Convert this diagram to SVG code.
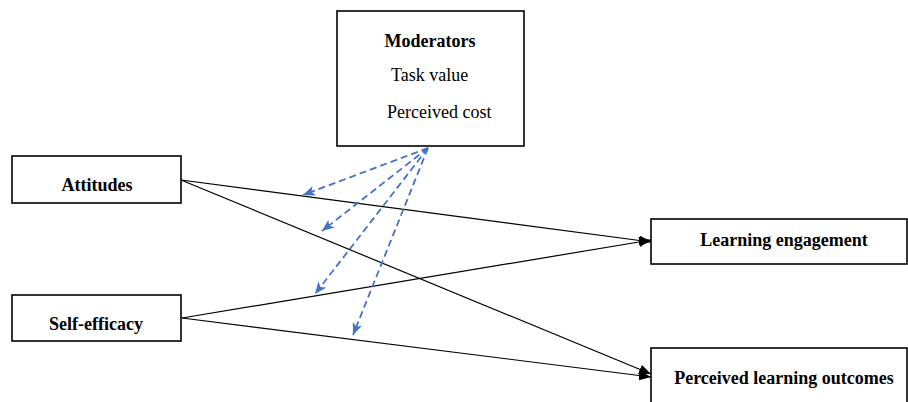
<svg xmlns="http://www.w3.org/2000/svg" width="908" height="402" viewBox="0 0 908 402">
<style>
.box{fill:#fff;stroke:#000;stroke-width:1.6}
.t{font-family:"Liberation Serif","Times New Roman",serif;font-size:18px;fill:#000}
.b{font-weight:bold}
.ln{stroke:#000;stroke-width:1.2;fill:none}
.ds{stroke:#4472C4;stroke-width:1.8;stroke-dasharray:7 4;fill:none}
</style>
<defs>
<marker id="ah" viewBox="0 0 12 10" refX="12" refY="5" markerWidth="12" markerHeight="10" markerUnits="userSpaceOnUse" orient="auto">
<path d="M0,0 L12,5 L0,10 Z" fill="#000"/>
</marker>
<marker id="bh" viewBox="0 0 12 10" refX="12" refY="5" markerWidth="12" markerHeight="10" markerUnits="userSpaceOnUse" orient="auto">
<path d="M0,0 L12,5 L0,10 L3,5 Z" fill="#4472C4"/>
</marker>
</defs>
<g id="moderators">
<rect class="box" x="337" y="11" width="187" height="135"/>
<text class="t b" x="430" y="47" text-anchor="middle">Moderators</text>
<text class="t" x="391" y="81">Task value</text>
<text class="t" x="387" y="118">Perceived cost</text>
</g>
<g id="attitudes">
<rect class="box" x="12" y="156" width="169" height="47"/>
<text class="t b" x="97" y="191" text-anchor="middle">Attitudes</text>
</g>
<g id="self-efficacy">
<rect class="box" x="12" y="295" width="169" height="46"/>
<text class="t b" x="96" y="330" text-anchor="middle">Self-efficacy</text>
</g>
<g id="engagement">
<rect class="box" x="651" y="219" width="256" height="45"/>
<text class="t b" x="784" y="246" text-anchor="middle">Learning engagement</text>
</g>
<g id="outcomes">
<rect class="box" x="651" y="348" width="256" height="60"/>
<text class="t b" x="784" y="384" text-anchor="middle">Perceived learning outcomes</text>
</g>
<g id="connectors">
<line class="ln" x1="181" y1="180" x2="651" y2="242" marker-end="url(#ah)"/>
<line class="ln" x1="181" y1="180" x2="651" y2="374" marker-end="url(#ah)"/>
<line class="ln" x1="182" y1="318" x2="651" y2="240" marker-end="url(#ah)"/>
<line class="ln" x1="182" y1="318" x2="651" y2="377" marker-end="url(#ah)"/>
<line class="ds" x1="428" y1="148" x2="303" y2="195" marker-end="url(#bh)"/>
<line class="ds" x1="428" y1="148" x2="322" y2="231" marker-end="url(#bh)"/>
<line class="ds" x1="428" y1="148" x2="315" y2="294" marker-end="url(#bh)"/>
<line class="ds" x1="428" y1="148" x2="353" y2="335" marker-end="url(#bh)"/>
</g>
</svg>
